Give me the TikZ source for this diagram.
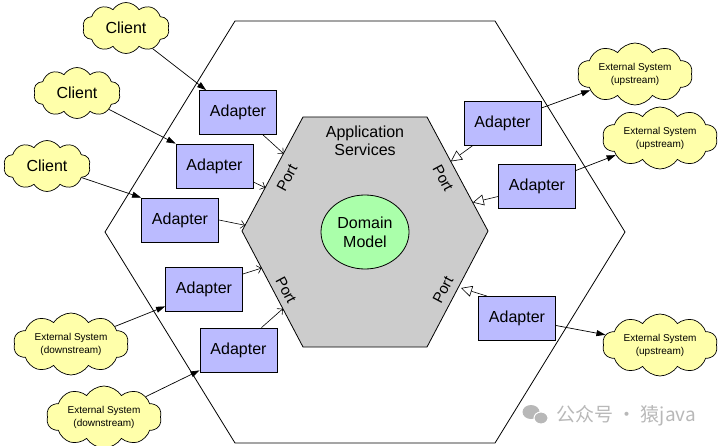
\documentclass[tikz,border=0pt]{standalone}
\usepackage{fontspec}
\setmainfont{Liberation Sans}
\newfontfamily\cjkfont{Noto Sans CJK SC}
\usetikzlibrary{shapes.symbols,shapes.geometric,arrows.meta,calc}
\definecolor{adapterblue}{RGB}{187,187,255}
\definecolor{cloudyellow}{RGB}{255,255,170}
\definecolor{domaingreen}{RGB}{170,255,170}
\definecolor{hexgray}{RGB}{204,204,204}
\definecolor{wmgray}{RGB}{184,184,184}
\begin{document}
\begin{tikzpicture}[x=1pt,y=-1pt,line width=0.8pt,
  adapter/.style={draw, fill=adapterblue, minimum width=77pt, minimum height=44pt, inner sep=0pt, font=\fontsize{16}{19}\selectfont},
  cloudbase/.style={cloud, cloud puffs=10, cloud puff arc=115, draw, fill=cloudyellow, inner sep=0pt, line width=0.7pt},
  client/.style={cloudbase, aspect=1.7, minimum width=87pt, minimum height=51pt, font=\fontsize{16}{19}\selectfont},
  extsys/.style={cloudbase, aspect=2.2, minimum width=115pt, minimum height=54pt, align=center, font=\fontsize{10}{13}\selectfont},
  portlabel/.style={font=\fontsize{15}{18}\selectfont, inner sep=0pt},
  solidarrow/.style={-{Triangle[length=9pt,width=6pt]}, line width=0.7pt},
  openarrow/.style={-{Straight Barb[length=4pt,width=8pt]}, line width=0.6pt},
  hollowarrow/.style={-{Triangle[open,length=11pt,width=11pt,fill=white]}, line width=0.6pt}
]
\useasboundingbox (0,0) rectangle (722,446);

% outer hexagon
\coordinate (oTL) at (235,21);
\coordinate (oTR) at (495,21);
\coordinate (oR) at (625,232);
\coordinate (oBR) at (495,443);
\coordinate (oBL) at (235,443);
\coordinate (oL) at (105,232);
\draw[line width=0.8pt] (oTL) -- (oTR) -- (oR) -- (oBR) -- (oBL) -- (oL) -- cycle;

% inner hexagon
\coordinate (iTL) at (303,117);
\coordinate (iTR) at (427,117);
\coordinate (iR) at (488,231);
\coordinate (iBR) at (427,347);
\coordinate (iBL) at (303,347);
\coordinate (iL) at (242,231);
\draw[fill=hexgray, line width=0.8pt] (iTL) -- (iTR) -- (iR) -- (iBR) -- (iBL) -- (iL) -- cycle;

\node[align=center, font=\fontsize{16}{18}\selectfont] (appsvc) at (365,141) {Application\\Services};
\node[ellipse, draw, fill=domaingreen, minimum width=88pt, minimum height=74pt, inner sep=0pt,
      align=center, font=\fontsize{16}{19}\selectfont] (domain) at (365,232) {Domain\\Model};

\node[portlabel, rotate=62] (portTL) at (287,178) {Port};
\node[portlabel, rotate=-62] (portBL) at (286,290) {Port};
\node[portlabel, rotate=-62] (portTR) at (443,178) {Port};
\node[portlabel, rotate=62] (portBR) at (443,290) {Port};

% adapters
\node[adapter] (a1) at (238,112.5) {Adapter};
\node[adapter] (a2) at (214.5,166) {Adapter};
\node[adapter] (a3) at (180,220) {Adapter};
\node[adapter] (a4) at (204,289) {Adapter};
\node[adapter] (a5) at (238.5,350) {Adapter};
\node[adapter] (a6) at (502.5,123) {Adapter};
\node[adapter] (a7) at (537,186.5) {Adapter};
\node[adapter] (a8) at (517,318.5) {Adapter};

% clouds
\node[client] (c1) at (126,28) {Client};
\node[client] (c2) at (77,93) {Client};
\node[client] (c3) at (47,166) {Client};
\node[extsys] (d1) at (71,344) {External System\\(downstream)};
\node[extsys] (d2) at (104,417) {External System\\(downstream)};
\node[extsys] (u1) at (635,74) {External System\\(upstream)};
\node[extsys] (u2) at (660,138) {External System\\(upstream)};
\node[extsys] (u3) at (660,345) {External System\\(upstream)};

% clients/downstream -> adapters
\draw[solidarrow] (c1) -- ([xshift=7pt]a1.north west);
\draw[solidarrow] (c2) -- (a2.north west);
\draw[solidarrow] (c3) -- (a3.north west);
\draw[solidarrow] (d1) -- ([yshift=5pt]a4.south west);
\draw[solidarrow] (d2) -- ([yshift=2pt]a5.south west);

% left adapters -> ports
\coordinate (pA1) at ($(iL)!0.68!(iTL)$);
\coordinate (pA2) at ($(iL)!0.38!(iTL)$);
\coordinate (pA3) at ($(iL)!0.05!(iTL)$);
\coordinate (pA4) at ($(iL)!0.32!(iBL)$);
\coordinate (pA5) at ($(iL)!0.67!(iBL)$);
\draw[openarrow] ([xshift=25pt]a1.south) -- (pA1);
\draw[openarrow] ([yshift=-16pt]a2.east) -- (pA2);
\draw[openarrow] (a3.east) -- (pA3);
\draw[openarrow] ([yshift=15pt]a4.east) -- (pA4);
\draw[openarrow] ([xshift=23pt]a5.north) -- (pA5);

% right adapters -> ports
\coordinate (pA6) at ($(iTR)!0.39!(iR)$);
\coordinate (pA7) at ($(iTR)!0.75!(iR)$);
\coordinate (pA8) at (461,288);
\draw[hollowarrow] ([xshift=-29.5pt]a6.south) -- (pA6);
\draw[hollowarrow] ([yshift=-10pt]a7.west) -- (pA7);
\draw[hollowarrow] ([xshift=-30pt]a8.north) -- (pA8);

% right adapters -> upstream systems
\draw[solidarrow] ([yshift=15pt]a6.east) -- (u1);
\draw[solidarrow] ([yshift=16pt]a7.east) -- (u2);
\draw[solidarrow] ([yshift=-7pt]a8.east) -- (u3);

% watermark
\fill[wmgray] (531,412) ellipse [x radius=8.5pt, y radius=7pt];
\draw[wmgray, fill=wmgray, draw=white, line width=1pt] (541,418) ellipse [x radius=7pt, y radius=6pt];
\node[anchor=west, text=wmgray, font=\cjkfont\fontsize{19}{21}\selectfont, inner sep=0pt] (wm) at (556,416) {公众号 · 猿java};
\end{tikzpicture}
\end{document}
